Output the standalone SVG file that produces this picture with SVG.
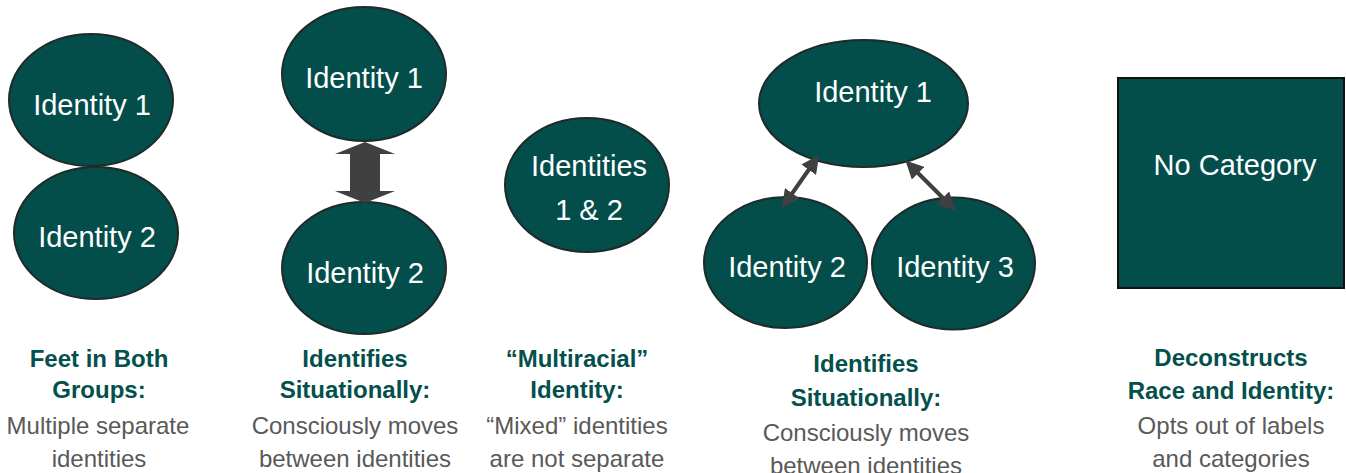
<svg xmlns="http://www.w3.org/2000/svg" width="1346" height="473" viewBox="0 0 1346 473">
  <style>
    .node { fill: #034e4b; stroke: #1f2a29; stroke-width: 2; }
    .label { font-family: "Liberation Sans", Arial, sans-serif; font-size: 29px; fill: #ffffff; text-anchor: middle; }
    .title { font-family: "Liberation Sans", Arial, sans-serif; font-size: 24px; font-weight: bold; fill: #04504c; text-anchor: middle; }
    .body { font-family: "Liberation Sans", Arial, sans-serif; font-size: 24px; fill: #595959; text-anchor: middle; }
    .link { stroke: #404040; stroke-width: 4; fill: none; marker-start: url(#head); marker-end: url(#head); }
  </style>
  <defs>
    <marker id="head" viewBox="0 0 10 10" refX="8" refY="5" markerWidth="4.5" markerHeight="4.5" orient="auto-start-reverse" markerUnits="strokeWidth">
      <path d="M0,0 L10,5 L0,10 Z" fill="#404040"/>
    </marker>
  </defs>

  <rect width="1346" height="473" fill="#ffffff"/>

  <!-- Column 1: feet in both groups -->
  <g id="c1-identity1">
    <ellipse class="node" cx="91" cy="100" rx="82" ry="66"/>
    <text class="label" x="92" y="115">Identity 1</text>
  </g>
  <g id="c1-identity2">
    <ellipse class="node" cx="96" cy="233" rx="82" ry="66"/>
    <text class="label" x="97" y="247">Identity 2</text>
  </g>

  <!-- Column 2: identifies situationally -->
  <g id="c2-identity1">
    <ellipse class="node" cx="364" cy="74" rx="82" ry="67"/>
    <text class="label" x="364" y="88">Identity 1</text>
  </g>
  <g id="c2-identity2">
    <ellipse class="node" cx="364" cy="268" rx="82" ry="66"/>
    <text class="label" x="365" y="283">Identity 2</text>
  </g>

  <!-- Column 3: multiracial identity -->
  <g id="c3-identities">
    <ellipse class="node" cx="587" cy="185" rx="82" ry="67"/>
    <text class="label" x="589" y="176">Identities</text>
    <text class="label" x="589" y="220">1 &amp; 2</text>
  </g>

  <!-- Column 4: three identities -->
  <g id="c4-identity1">
    <ellipse class="node" cx="863.5" cy="103.5" rx="104.5" ry="63.5"/>
    <text class="label" x="873" y="102">Identity 1</text>
  </g>
  <g id="c4-identity2">
    <ellipse class="node" cx="785.5" cy="262.5" rx="81.5" ry="65.5"/>
    <text class="label" x="787" y="277">Identity 2</text>
  </g>
  <g id="c4-identity3">
    <ellipse class="node" cx="953.5" cy="263.5" rx="81.5" ry="66"/>
    <text class="label" x="955" y="277">Identity 3</text>
  </g>

  <!-- Column 5: no category -->
  <g id="c5-nocategory">
    <rect x="1118" y="78" width="226" height="210" fill="#034e4b" stroke="#111111" stroke-width="2"/>
    <text class="label" x="1235" y="175">No Category</text>
  </g>

  <!-- Connectors -->
  <g id="connectors">
    <path d="M365,142 L395,154 L380,154 L380,191 L395,191 L365,203 L335,191 L350,191 L350,154 L335,154 Z" fill="#404040"/>
    <line class="link" x1="817" y1="158" x2="784" y2="205"/>
    <line class="link" x1="908" y1="163" x2="953" y2="208"/>
  </g>

  <!-- Captions -->
  <g id="captions">
    <text class="title" x="99" y="367">Feet in Both</text>
    <text class="title" x="99" y="398">Groups:</text>
    <text class="body" x="98" y="434">Multiple separate</text>
    <text class="body" x="99" y="467">identities</text>

    <text class="title" x="355" y="367">Identifies</text>
    <text class="title" x="355" y="398">Situationally:</text>
    <text class="body" x="355" y="434">Consciously moves</text>
    <text class="body" x="355" y="467">between identities</text>

    <text class="title" x="577" y="367">“Multiracial”</text>
    <text class="title" x="577" y="398">Identity:</text>
    <text class="body" x="577" y="434">“Mixed” identities</text>
    <text class="body" x="577" y="467">are not separate</text>

    <text class="title" x="866" y="372">Identifies</text>
    <text class="title" x="866" y="406">Situationally:</text>
    <text class="body" x="866" y="441">Consciously moves</text>
    <text class="body" x="866" y="474">between identities</text>

    <text class="title" x="1231" y="366">Deconstructs</text>
    <text class="title" x="1231" y="399">Race and Identity:</text>
    <text class="body" x="1231" y="434">Opts out of labels</text>
    <text class="body" x="1231" y="467">and categories</text>
  </g>
</svg>
